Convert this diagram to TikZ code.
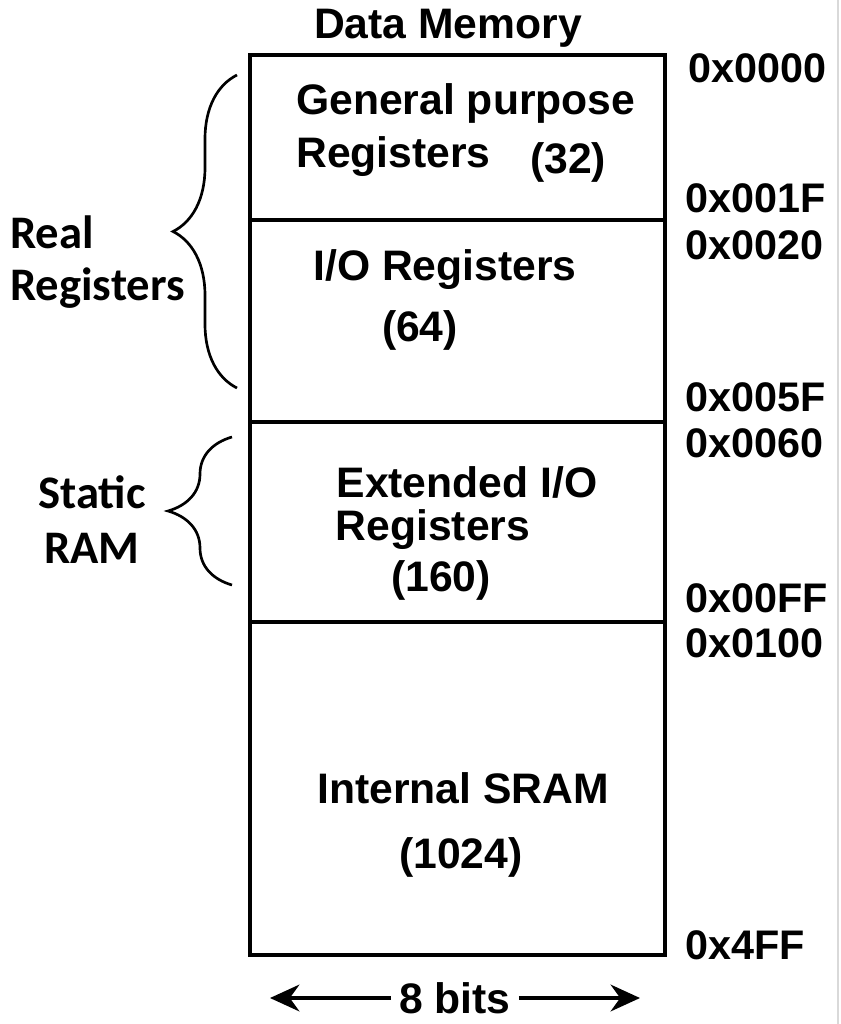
\documentclass[tikz,border=0pt]{standalone}
\usepackage{fontspec}
\setmainfont{Liberation Sans}
\newfontfamily\carlitofnt{Carlito}
\usetikzlibrary{decorations.pathreplacing,arrows.meta}
\begin{document}
\begin{tikzpicture}[x=0.75pt,y=-0.75pt,
  lbl/.style={font=\fontsize{32}{36}\selectfont\bfseries,inner sep=0pt},
  addr/.style={font=\fontsize{31}{34}\selectfont\bfseries,inner sep=0pt,anchor=west},
  side/.style={font=\carlitofnt\fontsize{35}{40}\selectfont\bfseries,inner sep=0pt},
  brc/.style={decorate,decoration={brace,amplitude=48pt},line width=2pt}]
\useasboundingbox (0,0) rectangle (841,1024);
\draw[gray!30,line width=1pt] (838,0) -- (838,1024);
\draw[line width=3.5pt] (250,55) rectangle (665,955);
\foreach \y in {220,422,622} \draw[line width=3pt] (250,\y) -- (665,\y);
\node[lbl] (t) at (448,28) {Data Memory};
\node[lbl,anchor=west] (g1) at (296,103) {General purpose};
\node[lbl,anchor=west] (g2) at (296,157) {Registers};
\node[lbl] (g3) at (568,162) {(32)};
\node[lbl] (i1) at (445,270) {I/O Registers};
\node[lbl] (i2) at (420,330) {(64)};
\node[lbl] (e1) at (467,482) {Extended I/O};
\node[lbl] (e2) at (433,530) {Registers};
\node[lbl] (e3) at (441,580) {(160)};
\node[lbl] (s1) at (463,788) {Internal SRAM};
\node[lbl] (s2) at (461,857) {(1024)};
\node[addr] at (688,68) {0x0000};
\node[addr] at (685,198) {0x001F};
\node[addr] at (685,245) {0x0020};
\node[addr] at (685,397) {0x005F};
\node[addr] at (685,443) {0x0060};
\node[addr] at (685,598) {0x00FF};
\node[addr] at (685,643) {0x0100};
\node[addr] at (685,945) {0x4FF};
\node[side,anchor=west] at (10,232) {Real};
\node[side,anchor=west] at (10,288) {Registers};
\node[side] at (92,492) {Static};
\node[side] at (92,548) {RAM};
\draw[brc] (237,388) -- (237,75);
\draw[brc] (232,585) -- (232,437);
\node[lbl] (b) at (455,998) {8 bits};
\coordinate (la) at (270,998);
\coordinate (ra) at (640,998);
\draw[line width=3pt,-{Stealth[length=22pt,width=20pt]}] (b.west) ++(-8,0) -- (la);
\draw[line width=3pt,-{Stealth[length=22pt,width=20pt]}] (b.east) ++(8,0) -- (ra);
\end{tikzpicture}
\end{document}
